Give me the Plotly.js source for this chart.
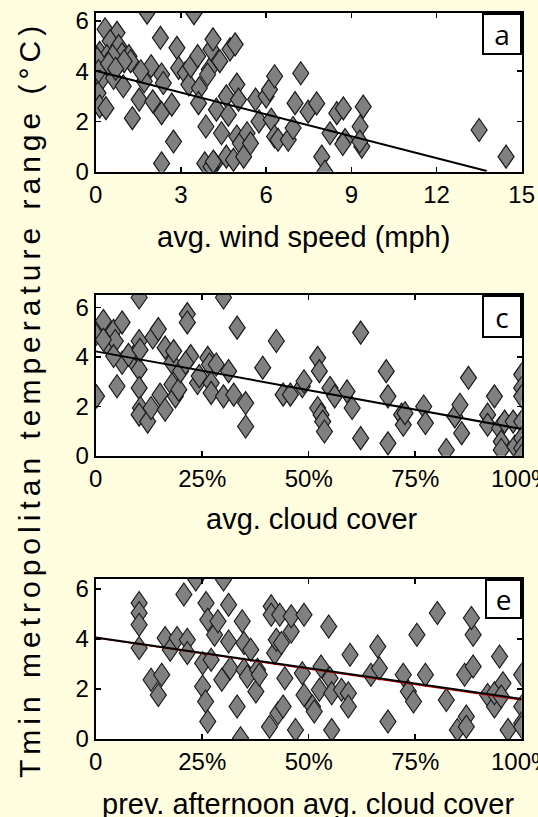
<!DOCTYPE html>
<html><head><meta charset="utf-8">
<script src="https://cdn.plot.ly/plotly-3.0.1.min.js"></script>
<style>html,body{margin:0;padding:0;background:#fffde0;overflow:hidden;}</style>
</head><body>
<div id="chart" style="width:538px;height:817px;"></div>
<script>
// Panel a: avg. wind speed (mph)
const windX = [1.81,3.46,0.33,0.75,0.14,0.51,0.39,0.81,0.93,1.17,1.23,0.27,0.2,0.08,0.14,0.36,0.63,0.97,1.29,1.53,1.95,2.01,1.71,1.59,2.28,2.32,2.38,2.32,2.32,2.68,2.74,2.86,2.92,3.16,3.28,3.35,3.59,3.65,3.62,3.88,3.84,4.0,3.94,4.06,4.13,4.19,4.06,4.25,4.37,4.43,4.6,4.67,4.6,4.73,4.91,4.97,5.03,4.97,5.09,4.85,5.21,5.33,5.45,5.63,5.75,6.0,6.12,6.3,6.18,6.3,6.42,6.78,0.05,0.1,0.6,0.45,1.0,0.7,4.14,7.22,7.02,7.48,7.78,8.25,7.96,8.07,8.49,8.72,8.78,9.31,9.42,9.37,6.95,8.7,9.3,13.5,14.45];
const windY = [6.33,6.31,5.67,5.53,4.73,5.2,4.6,5.0,4.67,4.6,4.4,4.13,3.67,3.13,2.6,2.53,3.73,3.4,2.13,2.87,4.2,2.8,3.6,4.0,5.33,3.87,3.53,2.33,0.33,2.67,1.2,4.93,4.13,3.93,3.47,4.2,4.6,3.33,2.73,1.8,0.33,4.07,3.87,4.87,5.27,0.33,0.2,2.47,4.4,1.53,3.0,2.27,0.6,4.87,5.07,3.47,2.87,1.4,1.13,0.47,0.6,1.53,1.13,2.87,2.0,3.0,3.27,3.8,2.07,1.4,1.27,1.27,4.5,4.0,4.6,4.3,4.4,4.1,0.4,3.92,2.73,2.39,2.72,1.53,0.6,0.0,2.33,2.52,1.26,1.8,2.59,1.0,1.74,1.1,1.2,1.66,0.6];
const fitAx = [0, 13.77];
const fitAy = [4.02, 0.03];

// Panel c: avg. cloud cover (%)
const cloudX = [0.2,0,1.8,2.6,4.2,4.6,5.0,6.2,6.2,4.2,8.6,9.8,10.2,10.2,10.2,10.5,10.2,10.2,12.2,13.0,13.4,14.7,15.1,16.3,16.3,17.9,18.3,17.9,18.7,19.5,19.9,21.5,21.5,22.3,21.1,23.9,24.3,26.3,26.7,27.1,27.1,28.3,30.0,30.0,31.2,32.4,33.2,35.2,35.2,39.2,42.4,44.0,45.7,48.5,48.9,52.1,52.5,52.1,52.9,53.3,53.7,55.0,56.1,59.0,60.2,62.2,62.2,68.2,68.6,68.6,71.8,72.2,72.6,77.0,77.4,82.3,84.3,85.5,85.9,87.5,92.0,92.0,93.6,94.8,95.2,95.2,96.0,98.0,98.4,100,100,100,100,100,100,100,1.8,7.7,10.4];
const cloudY = [2.4,4.9,5.45,4.57,5.05,4.64,2.81,5.39,3.76,4.03,3.9,4.23,4.64,3.49,2.74,1.93,1.66,6.4,1.38,1.93,4.78,5.12,2.47,1.86,4.37,3.76,4.23,2.88,2.4,2.67,3.42,5.73,5.39,4.03,3.76,2.94,3.22,3.96,3.69,2.94,2.54,3.69,6.4,2.4,3.42,2.47,5.18,2.13,1.18,3.56,4.64,2.47,2.47,2.81,3.01,3.96,3.42,1.93,1.66,1.38,0.98,2.74,2.4,2.6,1.93,4.98,0.71,3.42,2.4,0.5,1.66,1.25,1.72,1.99,1.32,0.23,1.59,2.06,0.91,3.15,1.66,1.25,2.4,1.11,0.57,0.23,1.38,1.38,0.37,3.28,2.74,2.4,1.38,0.71,0.3,0.0,4.69,4.08,4.28];
const fitCx = [0, 100];
const fitCy = [4.22, 1.08];

// Panel e: prev. afternoon avg. cloud cover (%)
const prevX = [10.2,10.2,10.2,10.2,13.0,14.7,15.5,16.3,17.5,19.1,20.7,21.5,21.5,23.5,25.1,25.1,25.8,26.3,25.9,26.3,27.1,27.9,28.7,29.6,30.0,31.2,31.2,31.6,33.2,34.0,34.4,34.8,34.8,35.6,36.4,37.6,38.0,38.4,40.8,41.2,41.2,42.0,42.4,42.8,43.2,43.6,44.0,44.4,45.9,45.9,46.9,48.5,48.9,48.9,50.9,51.3,52.5,52.9,54.7,55.0,55.4,55.4,57.7,59.3,59.3,59.7,64.6,66.2,66.6,68.6,72.2,73.4,74.6,75.4,77.4,80.2,82.3,84.9,87.0,87.0,86.6,88.6,88.6,88.2,92.0,93.6,93.6,94.8,95.6,95.2,96.8,100,100,100,100];
const prevY = [5.44,5.04,4.57,3.64,2.37,1.76,2.57,4.04,3.57,4.04,5.78,3.97,3.44,6.38,3.03,2.1,1.5,0.7,5.44,4.77,3.17,4.17,4.71,2.37,6.38,5.37,3.9,2.83,1.3,0.03,4.71,2.77,3.84,2.5,3.57,1.9,2.77,2.57,0.49,5.31,4.97,3.44,3.97,1.03,4.97,3.84,1.3,2.43,4.3,4.91,0.36,2.63,4.97,1.76,1.3,1.1,1.97,2.9,4.5,2.43,1.83,0.36,1.97,1.83,1.3,3.37,2.57,3.7,2.83,0.7,2.57,1.9,1.5,4.17,2.57,5.04,1.56,0.36,0.9,0.49,2.57,2.9,4.17,4.84,1.76,1.3,1.83,3.3,2.23,1.7,0.36,2.57,1.3,0.63,0.49];
const fitEx = [0, 100];
const fitEy = [4.06, 1.6];
const fitErx = [0, 100];
const fitEry = [4.05, 1.56];

const xTicksA = [0,3,6,9,12,15];
const yTicks = [0,2,4,6];
const pctVals = [0,25,50,75,100];
const pctText = ['0','25%','50%','75%','100%'];
const panelLabels = ['a','c','e'];
const xTitles = ['avg. wind speed (mph)','avg. cloud cover','prev. afternoon avg. cloud cover'];
const yTitle = 'Tmin metropolitan temperature range (°C)';

const FONT = 'Liberation Sans, Arial, Helvetica, sans-serif';
const marker = {symbol:'diamond', size:13, color:'#808080', line:{color:'#1a1a1a', width:1.2}};
function pts(x, y, xa, ya){ return {type:'scatter', mode:'markers', x:x, y:y, xaxis:xa, yaxis:ya, marker:marker, hoverinfo:'skip'}; }
function line(x, y, xa, ya, c, w){ return {type:'scatter', mode:'lines', x:x, y:y, xaxis:xa, yaxis:ya, line:{color:c, width:w}, hoverinfo:'skip'}; }

const data = [
  pts(windX, windY, 'x', 'y'), line(fitAx, fitAy, 'x', 'y', '#000', 2),
  pts(cloudX, cloudY, 'x2', 'y2'), line(fitCx, fitCy, 'x2', 'y2', '#000', 2),
  pts(prevX, prevY, 'x3', 'y3'), line(fitErx, fitEry, 'x3', 'y3', '#d00000', 1.5), line(fitEx, fitEy, 'x3', 'y3', '#000', 2)
];

const W = 538, H = 817;
const xDom = [95.7/W, 521.7/W];
const base = {showline:true, linecolor:'#000', linewidth:2, mirror:'ticks', ticks:'inside', ticklen:5, tickwidth:1.5, tickcolor:'#000',
  showgrid:false, zeroline:false, tickfont:{family:FONT, size:24, color:'#000'}, fixedrange:true, ticklabeloverflow:'allow'};
function xa(anchor, extra){ return Object.assign({}, base, {domain:xDom, anchor:anchor}, extra); }
function ya(anchor, top, bot, rmax){ return Object.assign({}, base, {domain:[(H-bot)/H, (H-top)/H], anchor:anchor, range:[0, rmax], tickvals:yTicks}); }

const boxFont = {family:'Open Sans, sans-serif', size:28, color:'#000'};
const titleFont = {family:FONT, size:29, color:'#000'};
const layout = {
  width:W, height:H, margin:{l:0, r:0, t:0, b:0},
  paper_bgcolor:'#fffde0', plot_bgcolor:'#ffffff', showlegend:false,
  xaxis: xa('y', {range:[0,15], tickvals:xTicksA}),
  yaxis: ya('x', 12.7, 171.7, 6.33),
  xaxis2: xa('y2', {range:[0,100], tickvals:pctVals, ticktext:pctText}),
  yaxis2: ya('x2', 295, 455.7, 6.5),
  xaxis3: xa('y3', {range:[0,100], tickvals:pctVals, ticktext:pctText}),
  yaxis3: ya('x3', 579, 739, 6.4),
  annotations: [
    {text:xTitles[0], xref:'paper', yref:'paper', x:303.7/W, y:(H-237)/H, xanchor:'center', yanchor:'middle', showarrow:false, font:titleFont},
    {text:xTitles[1], xref:'paper', yref:'paper', x:312/W, y:(H-519)/H, xanchor:'center', yanchor:'middle', showarrow:false, font:titleFont},
    {text:xTitles[2], xref:'paper', yref:'paper', x:308/W, y:(H-804)/H, xanchor:'center', yanchor:'middle', showarrow:false, font:titleFont},
    {text:yTitle, xref:'paper', yref:'paper', x:29/W, y:(H-400)/H, xanchor:'center', yanchor:'middle', textangle:-90, showarrow:false, font:{family:FONT, size:30, color:'#000'}},
    {text:panelLabels[0], xref:'x domain', yref:'y domain', x:1, y:1, xanchor:'right', yanchor:'top', showarrow:false, width:36, height:38, borderpad:0, borderwidth:2, bordercolor:'#000', bgcolor:'#fff', font:boxFont},
    {text:panelLabels[1], xref:'x2 domain', yref:'y2 domain', x:1, y:1, xanchor:'right', yanchor:'top', showarrow:false, width:36, height:39, borderpad:0, borderwidth:2, bordercolor:'#000', bgcolor:'#fff', font:boxFont},
    {text:panelLabels[2], xref:'x3 domain', yref:'y3 domain', x:1, y:1, xanchor:'right', yanchor:'top', showarrow:false, width:33, height:36, borderpad:0, borderwidth:2, bordercolor:'#000', bgcolor:'#fff', font:boxFont}
  ]
};

Plotly.newPlot('chart', data, layout, {staticPlot:true, displayModeBar:false}).then(function(gd){
  gd.querySelectorAll('.annotation-text').forEach(function(t){
    if (t.textContent.indexOf('Tmin') === 0) t.style.letterSpacing = '5px';
  });
  gd.querySelectorAll('.scatterlayer .points path.point').forEach(function(p){
    p.setAttribute('d', 'M0,-11.5L8,0L0,11.5L-8,0Z');
  });
});
</script>
</body></html>
